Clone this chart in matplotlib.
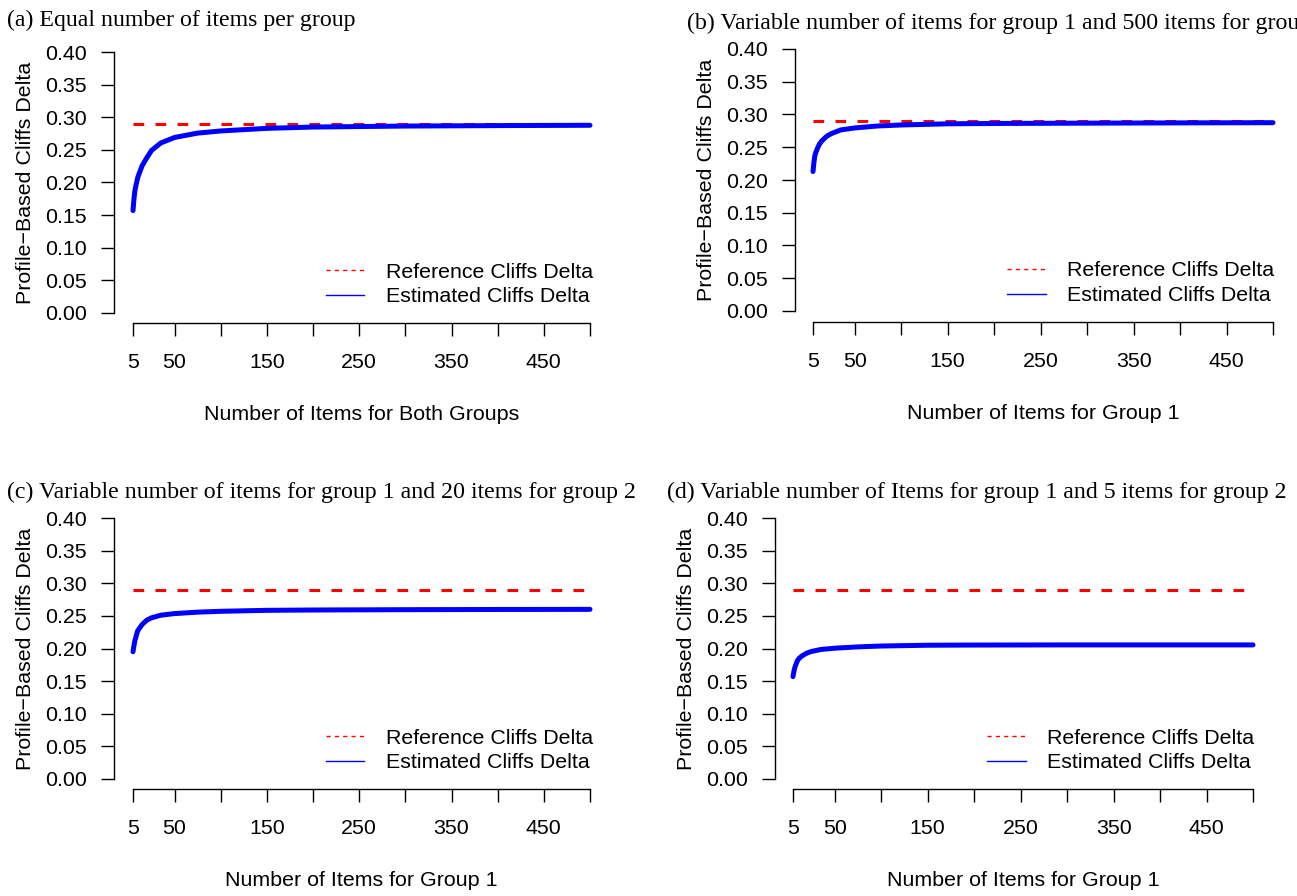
import matplotlib
matplotlib.use("Agg")
import matplotlib.pyplot as plt

plt.rcParams['font.family'] = ['Liberation Sans', 'DejaVu Sans']

# data
n_items = [5, 6, 7, 8, 10, 12, 15, 20, 25, 35, 50, 75, 100, 150, 200, 300, 400, 500]
est_a = [0.157, 0.174, 0.187, 0.194, 0.207, 0.215, 0.226, 0.238, 0.249, 0.2605, 0.269,
         0.2757, 0.279, 0.283, 0.285, 0.2865, 0.2872, 0.2877]
est_b = [0.213, 0.227, 0.237, 0.242, 0.249, 0.255, 0.2605, 0.267, 0.271, 0.2765, 0.2795,
         0.2825, 0.284, 0.2858, 0.2863, 0.2868, 0.2872, 0.2875]
est_c = [0.195, 0.204, 0.212, 0.217, 0.227, 0.231, 0.237, 0.2435, 0.247, 0.251, 0.2535,
         0.2557, 0.257, 0.2585, 0.259, 0.2595, 0.2598, 0.260]
est_d = [0.157, 0.165, 0.171, 0.175, 0.182, 0.1855, 0.189, 0.193, 0.1955, 0.1985, 0.2005,
         0.2025, 0.2038, 0.205, 0.2053, 0.2055, 0.2055, 0.2055]
ref_delta = 0.29

titles = ["(a) Equal number of items per group",
          "(b) Variable number of items for group 1 and 500 items for group 2",
          "(c) Variable number of items for group 1 and 20 items for group 2",
          "(d) Variable number of Items for group 1 and 5 items for group 2"]
xlabels = ["Number of Items for Both Groups", "Number of Items for Group 1",
           "Number of Items for Group 1", "Number of Items for Group 1"]
ylabel = "Profile\u2212Based Cliffs Delta"
xticks = [5, 50, 100, 150, 200, 250, 300, 350, 400, 450, 500]
xticklabels = ["5", "50", "", "150", "", "250", "", "350", "", "450", ""]
yticks = [0.0, 0.05, 0.10, 0.15, 0.20, 0.25, 0.30, 0.35, 0.40]

W, H = 1297, 896
fig = plt.figure(figsize=(W / 100, H / 100), dpi=100)

# panel boxes in pixels: left, right, bottom, top, x of n=5, x of n=500, y of 0, y of 0.4
boxes = [(114, 609, 323, 42, 133, 590, 313, 52),
         (795, 1291, 322, 38, 813, 1273, 311, 49),
         (114, 609, 789, 508, 133, 590, 779, 518),
         (775, 1271, 789, 508, 793, 1253, 779, 518)]
title_pos = [(7, 20), (687, 23), (7, 492), (667, 492)]
series = [est_a, est_b, est_c, est_d]

for i in range(4):
    l, r, b, t, x5, x500, y0, y4 = boxes[i]
    ax = fig.add_axes([l / W, 1 - b / H, (r - l) / W, (b - t) / H])
    sx = 495 / (x500 - x5)
    ax.set_xlim(5 - (x5 - l) * sx, 500 + (r - x500) * sx)
    sy = 0.4 / (y0 - y4)
    ax.set_ylim(0 - (b - y0) * sy, 0.4 + (y4 - t) * sy)

    ax.plot([5, 500], [ref_delta, ref_delta], color='#ff0000', lw=2.2,
            dashes=(3.5, 3.7), label='Reference Cliffs Delta')
    ax.plot(n_items, series[i], color='#0000ff', lw=3.6, solid_capstyle='round',
            solid_joinstyle='round', label='Estimated Cliffs Delta')

    for s in ['top', 'right']:
        ax.spines[s].set_visible(False)
    ax.spines['left'].set_bounds(0, 0.4)
    ax.spines['bottom'].set_bounds(5, 500)
    ax.spines['left'].set_linewidth(1.0)
    ax.spines['bottom'].set_linewidth(1.0)

    ax.set_xticks(xticks)
    ax.set_xticklabels(xticklabels)
    ax.set_yticks(yticks)
    ax.set_yticklabels(["%.2f" % v for v in yticks])
    ax.tick_params(axis='both', length=9.5, width=1.0, labelsize=15.4, color='black')
    ax.tick_params(axis='x', pad=12)
    ax.tick_params(axis='y', pad=10)

    ax.set_xlabel(xlabels[i], fontsize=15.4)
    ax.xaxis.set_label_coords(0.5, -82 / (b - t))
    ax.set_ylabel(ylabel, fontsize=15.4)
    ax.yaxis.set_label_coords(-79 / (r - l), (b - (y0 + y4) / 2) / (b - t))

    h = [plt.Line2D([], [], color='#ff0000', lw=1.0, dashes=(3, 3)),
         plt.Line2D([], [], color='#0000ff', lw=1.0)]
    ax.legend(h, ['Reference Cliffs Delta', 'Estimated Cliffs Delta'],
              loc='center left', bbox_to_anchor=(0.428, 0.137), frameon=False,
              fontsize=15.4, borderpad=0, borderaxespad=0, handlelength=1.8,
              handletextpad=1.0, labelspacing=0.28)

    tx, ty = title_pos[i]
    fig.text(tx / W, 1 - ty / H, titles[i], family=['Liberation Serif', 'DejaVu Serif'],
             fontsize=17.2, ha='left', va='center')

fig.savefig('out.png', dpi=100)
